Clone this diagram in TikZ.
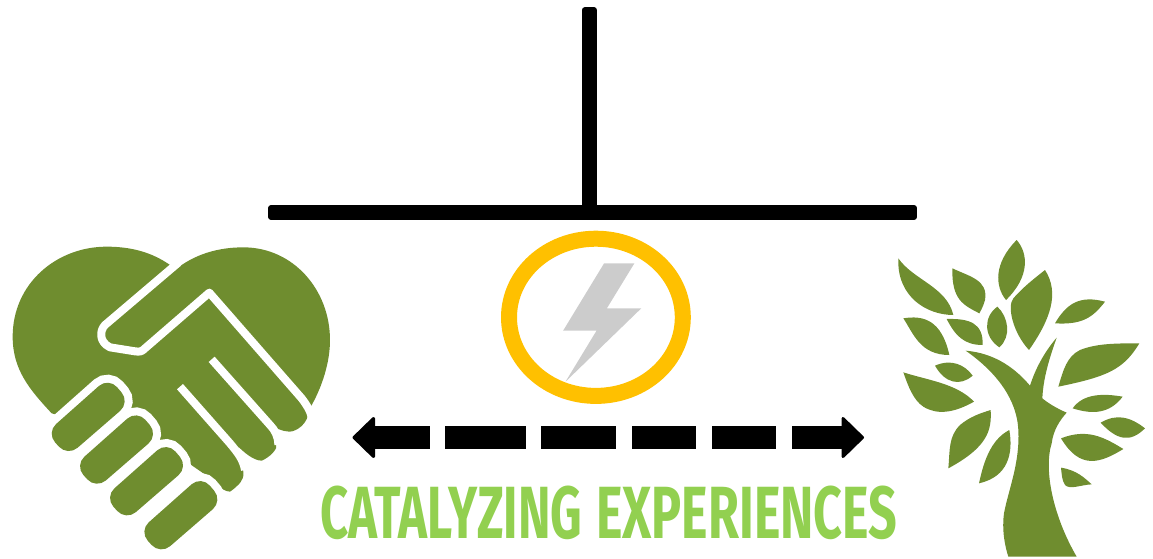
\documentclass[tikz,border=0pt]{standalone}
\usepackage{fontspec}
\setmainfont{Fira Sans}
\definecolor{leafgreen}{HTML}{6F8D2F}
\definecolor{textgreen}{HTML}{92D050}
\definecolor{ringgold}{HTML}{FFC000}
\definecolor{boltgrey}{HTML}{CCCCCC}
\tikzset{
  barline/.style={fill=black,draw=black,line width=6pt,line join=round},
  leaf/.style={fill=leafgreen,draw=none},
  finger/.style={fill=leafgreen,rounded corners=13pt,preaction={draw=white,fill=white,line width=16pt,rounded corners=13pt}},
  handline/.style={draw=white,line width=8pt,line join=round},
  dashbar/.style={draw=black,line width=23pt,dash pattern=on 55.1pt off 15.9pt on 80.2pt off 15.8pt on 74.8pt off 16.2pt on 64pt off 15.8pt on 64.1pt off 15.8pt on 49.6pt off 100pt},
  arrowhead/.style={fill=black,draw=black,line width=3pt,line join=round}
}
\begin{document}
\begin{tikzpicture}[x=1pt,y=-1pt]
\useasboundingbox (0,0) rectangle (1153,559);
% T bar
\coordinate (barA) at (271.3,208);
\coordinate (barB) at (914,217);
\coordinate (stemA) at (584.7,10.3);
\coordinate (stemB) at (593.7,208);
\draw[barline] (stemA) rectangle (stemB);
\draw[barline] (barA) rectangle (barB);
% ring and bolt
\draw[draw=ringgold,line width=16pt] (595.9,317.3) ellipse [x radius=86.9pt,y radius=78.6pt];
\fill[boltgrey] (604.1,263.3) -- (634.4,263.3) -- (606.9,308.3) -- (641.3,308.3) -- (565.5,381.7) -- (596.5,330.7) -- (563.1,330.7) -- cycle;
% dashed double arrow
\coordinate (dashL) at (374.4,437.5);
\coordinate (dashR) at (841.7,437.5);
\draw[dashbar] (dashL) -- (dashR);
\fill[arrowhead] (373.5,418.5) -- (354,437.5) -- (373.5,456.5) -- cycle;
\fill[arrowhead] (843,418.5) -- (862.5,437.5) -- (843,456.5) -- cycle;
% label
\node[inner sep=0pt,text=textgreen,anchor=base west] (label) at (320,538) {\bfseries\resizebox{262pt}{52.5pt}{CATALYZING}\hspace{14pt}\resizebox{301pt}{52.5pt}{EXPERIENCES}};
% heart
\begin{scope}[x=0.33333pt,y=-0.33333pt,yshift=-230pt]
\fill[leaf] (155,550) .. controls (90,480) and (38,420) .. (38,320)
  .. controls (38,160) and (170,50) .. (320,50)
  .. controls (400,50) and (460,70) .. (510,105) -- (525,120)
  .. controls (580,75) and (650,52) .. (730,52)
  .. controls (880,52) and (990,180) .. (990,330)
  .. controls (990,400) and (965,470) .. (938,520)
  -- (925,545) .. controls (925,580) and (890,605) .. (868,605)
  .. controls (845,605) and (825,590) .. (810,590)
  .. controls (830,615) and (830,640) .. (828,655)
  .. controls (815,680) and (785,692) .. (785,692)
  .. controls (760,692) and (730,665) .. (715,650)
  .. controls (730,710) and (735,740) .. (725,750)
  .. controls (720,765) and (690,785) .. (690,785)
  .. controls (665,785) and (630,745) .. (610,730)
  -- (480,640) -- cycle;
\draw[handline] (535,98) -- (315,285) .. controls (300,300) and (295,335) .. (330,352)
  -- (405,364) .. controls (420,366) and (425,365) .. (435,355) -- (628,188) -- (905,505) .. controls (920,525) and (930,540) .. (935,560);
\draw[handline] (635,388) -- (810,585) .. controls (825,600) and (835,620) .. (835,645);
\draw[handline] (540,470) -- (690,640) .. controls (715,670) and (730,690) .. (735,720);
\path[finger] (139,608) -- (203,679) -- (390,517) -- (326,442) -- cycle;
\path[finger] (224,706) -- (288,777) -- (475,615) -- (411,540) -- cycle;
\path[finger] (314,801) -- (378,872) -- (565,710) -- (501,635) -- cycle;
\path[finger] (417,903) -- (481,974) -- (668,812) -- (604,737) -- cycle;
\end{scope}
% tree
\begin{scope}[x=0.33333pt,y=-0.33333pt,xshift=880pt,yshift=-230pt]
\fill[leaf] (55,85) .. controls (100,150) and (200,170) .. (220,255) .. controls (140,255) and (50,200) .. (55,85);
\fill[leaf] (217,115) .. controls (270,140) and (325,150) .. (315,210) .. controls (310,230) and (298,250) .. (298,250) .. controls (250,225) and (215,210) .. (217,115);
\fill[leaf] (410,30) .. controls (445,70) and (450,140) .. (378,210) .. controls (345,170) and (340,100) .. (410,30);
\fill[leaf] (495,120) .. controls (540,190) and (510,270) .. (447,360) .. controls (400,310) and (380,230) .. (400,205) .. controls (430,170) and (470,140) .. (495,120);
\fill[leaf] (525,280) .. controls (560,220) and (600,195) .. (675,215) .. controls (640,260) and (610,285) .. (525,280);
\fill[leaf] (70,265) .. controls (130,255) and (185,270) .. (208,375) .. controls (120,375) and (100,310) .. (70,265);
\fill[leaf] (200,267) .. controls (270,265) and (310,280) .. (308,345) .. controls (250,345) and (225,315) .. (200,267);
\fill[leaf] (352,230) .. controls (385,260) and (395,320) .. (358,352) .. controls (310,320) and (310,260) .. (352,230);
\fill[leaf] (165,407) .. controls (215,385) and (255,405) .. (278,437) .. controls (240,470) and (195,460) .. (165,407);
\fill[leaf] (70,427) .. controls (140,450) and (230,460) .. (282,515) .. controls (220,550) and (170,555) .. (130,530) .. controls (100,510) and (85,470) .. (70,427);
\fill[leaf] (332,540) .. controls (335,600) and (325,650) .. (205,715) .. controls (210,660) and (205,620) .. (240,585) .. controls (270,560) and (300,550) .. (332,540);
\fill[leaf] (388,600) .. controls (400,670) and (385,740) .. (297,760) .. controls (310,700) and (330,630) .. (388,600);
\fill[leaf] (778,340) .. controls (730,420) and (680,440) .. (535,470) .. controls (550,420) and (560,380) .. (600,360) .. controls (650,340) and (710,340) .. (778,340);
\fill[leaf] (578,535) .. controls (610,490) and (670,490) .. (728,500) .. controls (690,550) and (640,555) .. (578,535);
\fill[leaf] (662,578) .. controls (710,550) and (750,560) .. (795,595) .. controls (750,640) and (710,630) .. (662,578);
\fill[leaf] (543,625) .. controls (620,595) and (670,620) .. (730,657) .. controls (660,700) and (600,720) .. (543,625);
\fill[leaf] (543,713) .. controls (590,720) and (615,745) .. (635,763) .. controls (600,765) and (570,780) .. (555,765) .. controls (545,750) and (545,730) .. (543,713);
\fill[leaf] (385,980) -- (590,980) .. controls (520,860) and (490,720) .. (515,640) .. controls (520,600) and (540,570) .. (560,548) .. controls (530,535) and (505,520) .. (487,505) .. controls (490,440) and (510,380) .. (530,323) .. controls (490,370) and (465,420) .. (450,467) .. controls (410,420) and (350,370) .. (257,362) .. controls (340,420) and (410,500) .. (415,600) .. controls (420,700) and (385,780) .. (372,850) .. controls (365,900) and (375,950) .. (385,980) -- cycle;
\end{scope}
\end{tikzpicture}
\end{document}
